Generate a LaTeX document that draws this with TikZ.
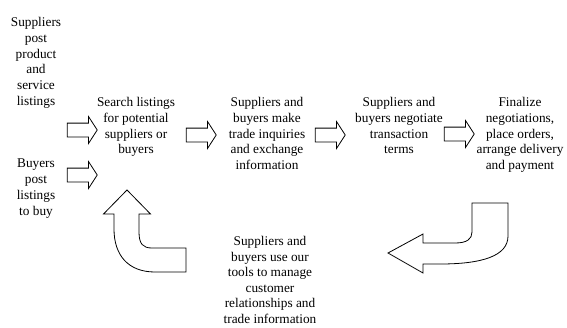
\documentclass[tikz,border=0pt]{standalone}
\usepackage{fontspec}
\setmainfont{Liberation Serif}
\usetikzlibrary{shapes.arrows}
\begin{document}
\begin{tikzpicture}[x=1pt,y=-1pt,
  lbl/.style={align=center,inner sep=0pt,anchor=north,font=\fontsize{13.3}{15.8}\selectfont},
  blk/.style={single arrow,draw=black,line width=0.8pt,minimum height=30pt,minimum width=0pt,
    inner xsep=0pt,inner ysep=6.5pt,single arrow head extend=6.5pt,single arrow tip angle=114},
  bigarr/.style={draw=black,line width=0.8pt,line join=miter}]
\useasboundingbox (0,0) rectangle (567,327);

% text blocks
\node[lbl] (sup) at (36,17) {Suppliers\\post\\product\\and\\service\\listings};
\node[lbl] (buy) at (36,159) {Buyers\\post\\listings\\to buy};
\node[lbl] (search) at (136,97) {Search listings\\for potential\\suppliers or\\buyers};
\node[lbl] (inq) at (267,97) {Suppliers and\\buyers make\\trade inquiries\\and exchange\\information};
\node[lbl] (neg) at (399,97) {Suppliers and\\buyers negotiate\\transaction\\terms};
\node[lbl] (fin) at (520,97) {Finalize\\negotiations,\\place orders,\\arrange delivery\\and payment};
\node[lbl,font=\fontsize{13.3}{15.6}\selectfont] (crm) at (270,236) {Suppliers and\\buyers use our\\tools to manage\\customer\\relationships and\\trade information};

% small block arrows
\node[blk] (a1) at (80,130) {};
\node[blk] (a2) at (80,175) {};
\node[blk] (a3) at (199,135) {};
\node[blk] (a4) at (328,135) {};
\node[blk] (a5) at (457,134) {};

% big curved arrow (bottom right, pointing left)
\draw[bigarr] (472,203) -- (508,203) -- (508,236)
  .. controls (508,256) and (482,264) .. (440,264) -- (423,264) -- (423,273) -- (388,253)
  -- (423,234) -- (423,243) -- (455,243)
  .. controls (467,243) and (472,239) .. (472,232) -- cycle;

% big curved arrow (bottom left, pointing up)
\draw[bigarr] (127,190) -- (150.5,214) -- (139,214) -- (139,232)
  .. controls (139,244) and (143,248) .. (152,248) -- (186,248) -- (186,272) -- (155,272)
  .. controls (128,272) and (114,255) .. (114,229) -- (114,214) -- (103.5,214) -- cycle;
\end{tikzpicture}
\end{document}
